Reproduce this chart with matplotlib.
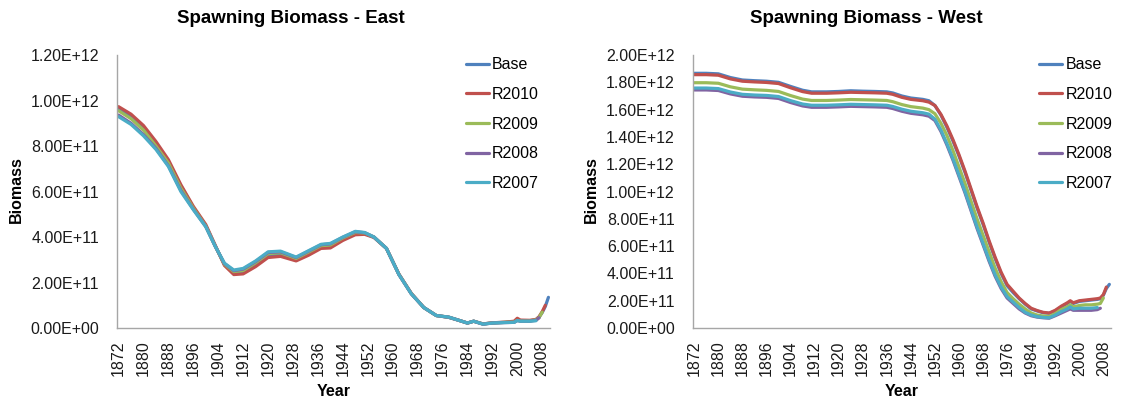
import numpy as np
import matplotlib
matplotlib.use("Agg")
import matplotlib.pyplot as plt
from matplotlib.ticker import FuncFormatter

plt.rcParams['font.family'] = ['Liberation Sans', 'DejaVu Sans']

series_names = ["Base", "R2010", "R2009", "R2008", "R2007"]
series_colors = ["#4F81BD", "#C0504D", "#9BBB59", "#8064A2", "#4BACC6"]

# ---- East (values in 1e12) ----
east_years = [1872, 1876, 1880, 1884, 1888, 1892, 1896, 1900, 1903, 1906,
              1909, 1912, 1916, 1920, 1924, 1929, 1933, 1937, 1940, 1944,
              1948, 1951, 1954, 1958, 1962, 1966, 1970, 1974, 1978, 1981,
              1984, 1986, 1989, 1992, 1996, 1999, 2000, 2001, 2004, 2006,
              2007, 2008, 2009, 2010]
east_base = [0.966, 0.93, 0.88, 0.81, 0.73, 0.625, 0.53, 0.45, 0.362, 0.278,
             0.243, 0.248, 0.28, 0.32, 0.325, 0.302, 0.33, 0.358, 0.36, 0.392,
             0.417, 0.416, 0.399, 0.35, 0.236, 0.151, 0.09, 0.055, 0.047, 0.035,
             0.022, 0.03, 0.018, 0.023, 0.025, 0.028, 0.036, 0.032, 0.032, 0.036,
             0.048, 0.068, 0.095, 0.135]
east_r2010 = [0.973, 0.94, 0.89, 0.82, 0.74, 0.63, 0.535, 0.455, 0.365, 0.275,
              0.235, 0.238, 0.27, 0.31, 0.315, 0.295, 0.32, 0.35, 0.352, 0.385,
              0.41, 0.412, 0.398, 0.35, 0.237, 0.152, 0.09, 0.055, 0.047, 0.035,
              0.022, 0.03, 0.018, 0.023, 0.026, 0.03, 0.043, 0.035, 0.034, 0.038,
              0.05, 0.072, 0.10]
east_r2009 = [0.955, 0.92, 0.87, 0.80, 0.725, 0.615, 0.527, 0.448, 0.361, 0.28,
              0.248, 0.253, 0.287, 0.327, 0.331, 0.306, 0.334, 0.362, 0.365, 0.396,
              0.42, 0.418, 0.40, 0.35, 0.236, 0.151, 0.09, 0.055, 0.048, 0.035,
              0.022, 0.03, 0.018, 0.022, 0.025, 0.026, 0.034, 0.031, 0.031, 0.036,
              0.046, 0.07]
east_r2008 = [0.936, 0.90, 0.85, 0.79, 0.713, 0.605, 0.522, 0.446, 0.36, 0.283,
              0.252, 0.259, 0.292, 0.332, 0.335, 0.31, 0.338, 0.366, 0.37, 0.399,
              0.423, 0.419, 0.40, 0.35, 0.235, 0.15, 0.09, 0.055, 0.048, 0.035,
              0.022, 0.03, 0.017, 0.022, 0.024, 0.025, 0.033, 0.03, 0.03, 0.034,
              0.045]
east_r2007 = [0.929, 0.895, 0.845, 0.785, 0.71, 0.60, 0.52, 0.445, 0.36, 0.285,
              0.255, 0.262, 0.295, 0.335, 0.338, 0.312, 0.34, 0.368, 0.372, 0.40,
              0.425, 0.42, 0.40, 0.35, 0.235, 0.15, 0.09, 0.055, 0.048, 0.035,
              0.022, 0.03, 0.017, 0.022, 0.024, 0.025, 0.033, 0.03, 0.03, 0.032]

# ---- West (values in 1e12) ----
west_years = [1872, 1876, 1880, 1884, 1888, 1892, 1896, 1900, 1904, 1908,
              1911, 1916, 1920, 1924, 1928, 1932, 1936, 1938, 1941, 1944,
              1948, 1950, 1952, 1954, 1956, 1958, 1960, 1962, 1964, 1966,
              1968, 1970, 1972, 1974, 1976, 1978, 1980, 1982, 1984, 1986,
              1988, 1990, 1992, 1994, 1996, 1997, 1998, 2000, 2002, 2004,
              2006, 2007, 2008, 2009, 2010]
west_base = [1.866, 1.866, 1.862, 1.835, 1.817, 1.812, 1.808, 1.80, 1.77, 1.742,
             1.73, 1.73, 1.733, 1.738, 1.735, 1.733, 1.73, 1.722, 1.70, 1.685,
             1.675, 1.665, 1.63, 1.56, 1.47, 1.37, 1.26, 1.14, 1.01, 0.88,
             0.76, 0.63, 0.51, 0.40, 0.31, 0.26, 0.215, 0.175, 0.14, 0.125,
             0.112, 0.108, 0.125, 0.155, 0.18, 0.195, 0.18, 0.195, 0.20, 0.205,
             0.21, 0.215, 0.24, 0.29, 0.32]
west_r2010 = [1.856, 1.856, 1.852, 1.825, 1.808, 1.803, 1.799, 1.791, 1.76, 1.732,
              1.72, 1.72, 1.723, 1.727, 1.725, 1.723, 1.72, 1.712, 1.69, 1.675,
              1.665, 1.655, 1.63, 1.565, 1.48, 1.38, 1.27, 1.15, 1.02, 0.89,
              0.77, 0.64, 0.52, 0.41, 0.32, 0.27, 0.22, 0.18, 0.145, 0.128,
              0.115, 0.11, 0.13, 0.16, 0.185, 0.20, 0.185, 0.20, 0.205, 0.21,
              0.215, 0.22, 0.245, 0.30]
west_r2009 = [1.797, 1.797, 1.793, 1.767, 1.75, 1.745, 1.741, 1.733, 1.703, 1.677,
              1.667, 1.667, 1.67, 1.674, 1.672, 1.67, 1.667, 1.658, 1.637, 1.622,
              1.611, 1.60, 1.57, 1.50, 1.41, 1.30, 1.18, 1.06, 0.93, 0.80,
              0.68, 0.56, 0.44, 0.34, 0.26, 0.215, 0.175, 0.14, 0.11, 0.095,
              0.088, 0.085, 0.105, 0.135, 0.155, 0.17, 0.155, 0.165, 0.17, 0.17,
              0.175, 0.18, 0.22]
west_r2008 = [1.744, 1.744, 1.74, 1.715, 1.698, 1.693, 1.69, 1.682, 1.652, 1.627,
              1.617, 1.617, 1.62, 1.624, 1.622, 1.62, 1.617, 1.608, 1.588, 1.573,
              1.562, 1.552, 1.52, 1.44, 1.34, 1.23, 1.11, 0.99, 0.86, 0.73,
              0.61, 0.49, 0.38, 0.29, 0.22, 0.18, 0.14, 0.11, 0.09, 0.08,
              0.075, 0.072, 0.09, 0.11, 0.13, 0.14, 0.13, 0.13, 0.13, 0.13,
              0.135, 0.145]
west_r2007 = [1.758, 1.758, 1.754, 1.729, 1.712, 1.707, 1.704, 1.696, 1.666, 1.641,
              1.632, 1.632, 1.635, 1.639, 1.637, 1.635, 1.632, 1.623, 1.603, 1.588,
              1.577, 1.567, 1.53, 1.45, 1.35, 1.24, 1.12, 1.00, 0.87, 0.74,
              0.62, 0.50, 0.39, 0.30, 0.23, 0.19, 0.15, 0.115, 0.095, 0.083,
              0.078, 0.075, 0.095, 0.12, 0.14, 0.155, 0.14, 0.145, 0.145, 0.145,
              0.15]

year_ticks = list(range(1872, 2009, 8))

east = [east_base, east_r2010, east_r2009, east_r2008, east_r2007]
west = [west_base, west_r2010, west_r2009, west_r2008, west_r2007]

fig = plt.figure(figsize=(11.47, 4.03), dpi=100)
ax1 = fig.add_axes([0.102, 0.186, 0.3775, 0.6775])
ax2 = fig.add_axes([0.604, 0.186, 0.3645, 0.6775])

fmt = FuncFormatter(lambda v, p: f"{v:.2E}")
axis_grey = "#A6A6A6"
fs = 11.5


def style(ax, years, data, ymax, ystep):
    for name, col, vals in zip(series_names, series_colors, data):
        ax.plot(years[:len(vals)], np.array(vals) * 1e12, color=col, lw=2.3,
                label=name, solid_capstyle="round")
    ax.set_xlim(1871.5, 2010.5)
    ax.set_ylim(0, ymax)
    ax.set_yticks(np.arange(0, ymax + ystep / 2, ystep))
    ax.yaxis.set_major_formatter(fmt)
    ax.set_xticks(year_ticks)
    ax.set_xticklabels([str(y) for y in year_ticks], rotation=90)
    ax.tick_params(axis="both", length=0, labelsize=fs, labelcolor="#1a1a1a")
    ax.tick_params(axis="y", pad=13)
    ax.tick_params(axis="x", pad=9)
    for s in ["top", "right"]:
        ax.spines[s].set_visible(False)
    for s in ["left", "bottom"]:
        ax.spines[s].set_color(axis_grey)
        ax.spines[s].set_linewidth(1)
    ax.set_xlabel("Year", fontsize=fs, fontweight="bold")
    ax.xaxis.set_label_coords(0.5, -0.205)


style(ax1, east_years, east, 1.2e12, 0.2e12)
style(ax2, west_years, west, 2.0e12, 0.2e12)

fig.text(0.254, 0.955, "Spawning Biomass - East", ha="center", va="center",
         fontsize=13.5, fontweight="bold")
fig.text(0.755, 0.955, "Spawning Biomass - West", ha="center", va="center",
         fontsize=13.5, fontweight="bold")
fig.text(0.014, 0.53, "Biomass", rotation=90, ha="center", va="center",
         fontsize=fs, fontweight="bold")
fig.text(0.516, 0.53, "Biomass", rotation=90, ha="center", va="center",
         fontsize=fs, fontweight="bold")

for ax, lx in [(ax1, 0.406), (ax2, 0.906)]:
    ax.legend(loc="upper left", bbox_to_anchor=(lx, 0.858),
              bbox_transform=fig.transFigure, frameon=False, fontsize=fs,
              handlelength=1.45, handletextpad=0.2, labelspacing=0.92,
              borderpad=0, borderaxespad=0)

fig.savefig("out.png", dpi=100)
